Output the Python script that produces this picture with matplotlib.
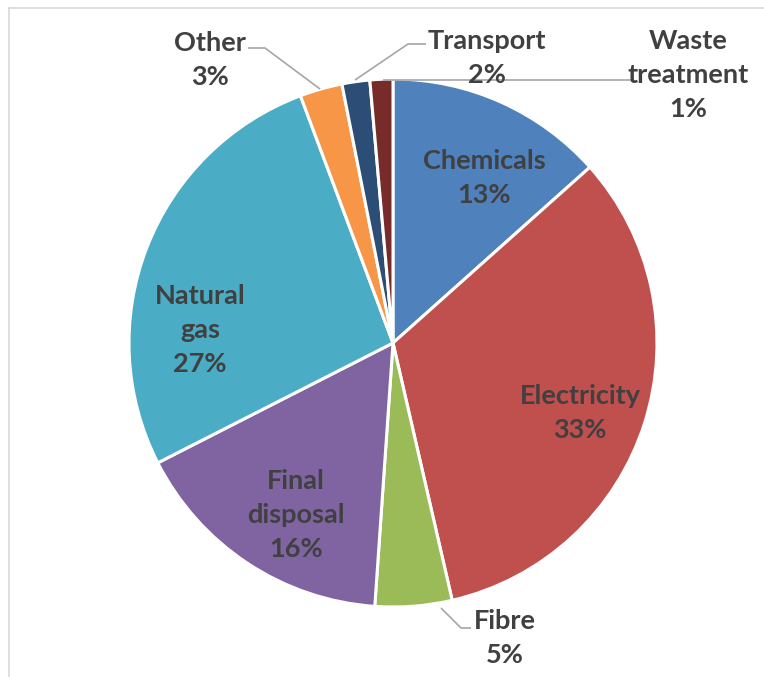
import matplotlib.pyplot as plt
from matplotlib.lines import Line2D

W, H = 764, 677

# shares of the total (percent)
categories = ['Chemicals', 'Electricity', 'Fibre', 'Final disposal',
              'Natural gas', 'Other', 'Transport', 'Waste treatment']
shares = [13.4, 33.0, 4.7, 16.4, 26.8, 2.6, 1.7, 1.4]
label_names = ['Chemicals', 'Electricity', 'Fibre', 'Final\ndisposal',
               'Natural\ngas', 'Other', 'Transport', 'Waste\ntreatment']
colors = ['#4F81BD', '#C0504D', '#9BBB59', '#8064A2',
          '#4BACC6', '#F79646', '#2C4D75', '#772C2A']


def px(x, y):
    # pixel position (y from top) -> data coords
    return x, H - y


# label centres in pixels
label_pos = [(484, 178), (580, 413), (505, 638), (296, 515),
             (200, 330), (210, 60), (487, 58), (688, 75)]

# leader lines for the small outside labels
leaders = [
    [(248, 48), (265, 48), (320, 89)],
    [(426, 44), (408, 44), (355, 80)],
    [(383, 80), (634, 80)],
    [(441, 608), (461, 628), (471, 628)],
]

fig = plt.figure(figsize=(W / 100, H / 100), dpi=100)
ax = fig.add_axes([0, 0, 1, 1])

ax.pie(shares, colors=colors, startangle=90, counterclock=False,
       center=px(393, 343), radius=264,
       wedgeprops=dict(edgecolor='white', linewidth=2.2))

ax.set_xlim(0, W)
ax.set_ylim(0, H)
ax.set_aspect('equal')
ax.axis('off')

for name, v, (x, y) in zip(label_names, shares, label_pos):
    ax.text(*px(x, y), f'{name}\n{v:.0f}%', ha='center', va='center',
            fontsize=19.5, fontweight='bold', family=['Lato', 'DejaVu Sans'],
            color='#404040', linespacing=1.5)

for pts in leaders:
    xs = [p[0] for p in pts]
    ys = [H - p[1] for p in pts]
    ax.plot(xs, ys, color='#a6a6a6', lw=1.2, solid_capstyle='butt')

# chart area border (only left and top edges visible)
fig.add_artist(Line2D([8.5 / W, 8.5 / W], [0, 1 - 7.5 / H],
                      transform=fig.transFigure, color='#d9d9d9', lw=1.2))
fig.add_artist(Line2D([8.5 / W, 1], [1 - 7.5 / H, 1 - 7.5 / H],
                      transform=fig.transFigure, color='#d9d9d9', lw=1.2))

fig.savefig('out.png', dpi=100, facecolor='white')
